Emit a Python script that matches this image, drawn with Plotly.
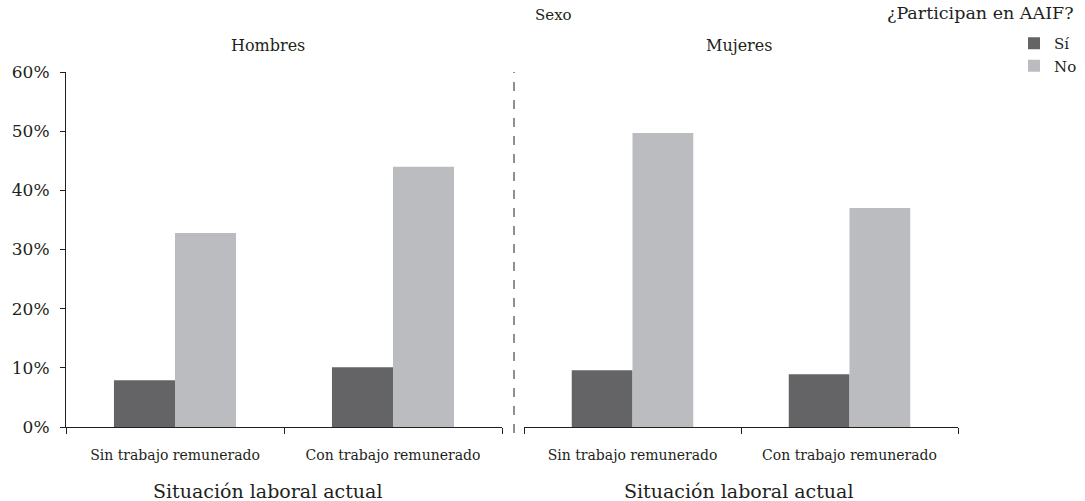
import plotly.graph_objects as go

# data
situacion = ["Sin trabajo remunerado", "Con trabajo remunerado"]
hombres_si = [0.079, 0.101]
hombres_no = [0.328, 0.440]
mujeres_si = [0.096, 0.089]
mujeres_no = [0.497, 0.370]
y_ticks = [0, 0.1, 0.2, 0.3, 0.4, 0.5, 0.6]

W, H = 1085, 501
dark = "#646466"
light = "#BBBCBF"
ink = "#231F20"
font_name = "DejaVu Serif"


def px(x):
    return x / W


def py(y):
    return 1 - y / H


fig = go.Figure()
fig.add_trace(go.Bar(x=situacion, y=hombres_si, name="Sí", marker_color=dark,
                     legendgroup="si", xaxis="x", yaxis="y"))
fig.add_trace(go.Bar(x=situacion, y=hombres_no, name="No", marker_color=light,
                     legendgroup="no", xaxis="x", yaxis="y"))
fig.add_trace(go.Bar(x=situacion, y=mujeres_si, name="Sí", marker_color=dark,
                     legendgroup="si", showlegend=False, xaxis="x2", yaxis="y2"))
fig.add_trace(go.Bar(x=situacion, y=mujeres_no, name="No", marker_color=light,
                     legendgroup="no", showlegend=False, xaxis="x2", yaxis="y2"))


def cat_axis(domain, anchor):
    return dict(domain=domain, anchor=anchor, type="category", automargin=False,
                showline=True, linecolor=ink, linewidth=1,
                ticks="outside", tickson="boundaries", ticklen=6, tickcolor=ink,
                ticklabelstandoff=15,
                tickfont=dict(size=14, color=ink), showgrid=False, zeroline=False)


fig.update_layout(
    template="none",
    width=W, height=H,
    margin=dict(l=0, r=0, t=0, b=0),
    paper_bgcolor="white", plot_bgcolor="white",
    font=dict(family=font_name, color=ink),
    barmode="group", bargap=0.44, bargroupgap=0,
    xaxis=cat_axis([px(66), px(502)], "y"),
    xaxis2=cat_axis([px(524), px(958)], "y2"),
    yaxis=dict(domain=[py(427), py(72)], range=[0, 0.6], tickvals=y_ticks, tickformat=".0%",
               automargin=False, showline=True, linecolor=ink, ticks="outside", ticklen=5,
               tickcolor=ink, ticklabelstandoff=7,
               tickfont=dict(size=17, color=ink), showgrid=False, zeroline=False),
    yaxis2=dict(domain=[py(427), py(72)], range=[0, 0.6], matches="y", anchor="x2",
                automargin=False, visible=False, showgrid=False),
    legend=dict(x=px(1014), y=py(27), xanchor="left", yanchor="top",
                font=dict(size=15, color=ink), bgcolor="rgba(0,0,0,0)",
                tracegroupgap=0, itemwidth=30),
    shapes=[dict(type="line", xref="paper", yref="paper", x0=px(514), x1=px(514),
                 y0=py(433), y1=py(72), line=dict(color=ink, width=1, dash="dash"))],
    annotations=[
        dict(text="Sexo", x=px(553), y=py(15), xref="paper", yref="paper",
             xanchor="center", yanchor="middle", showarrow=False, font=dict(size=15)),
        dict(text="Hombres", x=px(268), y=py(45), xref="paper", yref="paper",
             xanchor="center", yanchor="middle", showarrow=False, font=dict(size=16)),
        dict(text="Mujeres", x=px(739), y=py(45), xref="paper", yref="paper",
             xanchor="center", yanchor="middle", showarrow=False, font=dict(size=16)),
        dict(text="¿Participan en AAIF?", x=px(1076), y=py(13), xref="paper", yref="paper",
             xanchor="right", yanchor="middle", showarrow=False, font=dict(size=17.5)),
        dict(text="Situación laboral actual", x=px(268), y=py(491), xref="paper", yref="paper",
             xanchor="center", yanchor="middle", showarrow=False, font=dict(size=19)),
        dict(text="Situación laboral actual", x=px(739), y=py(491), xref="paper", yref="paper",
             xanchor="center", yanchor="middle", showarrow=False, font=dict(size=19)),
    ],
)

# drop the default page margin so the figure sits at the window's corner
fig.write_html("out.html", config={"displayModeBar": False},
               post_script="document.body.style.margin = '0';")
